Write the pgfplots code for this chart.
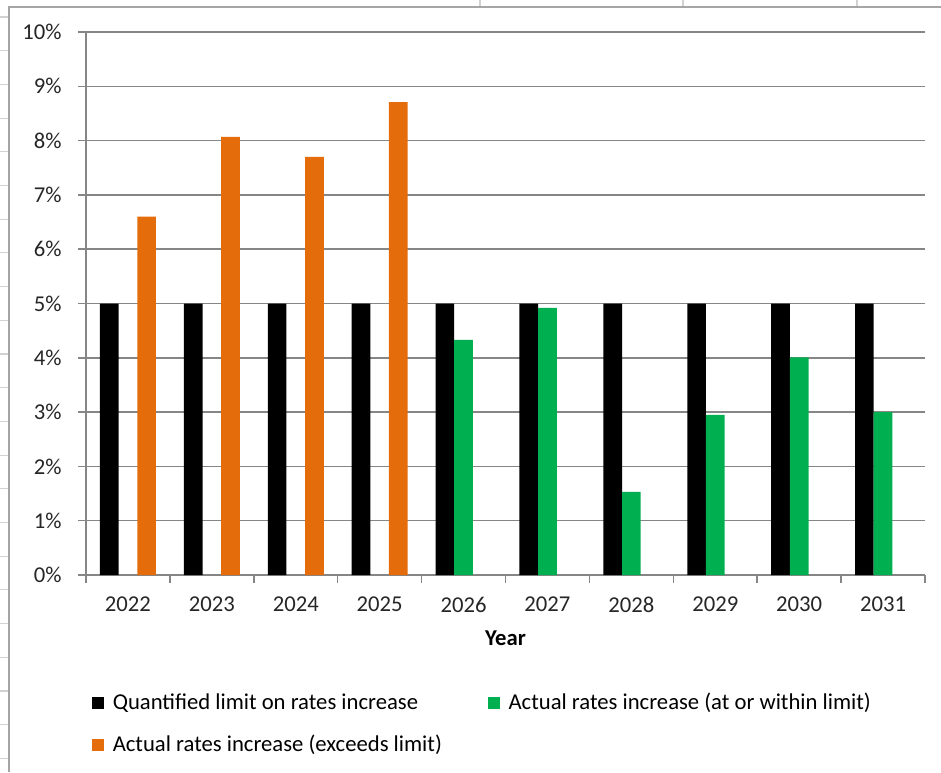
\documentclass[border=0pt]{standalone}
\usepackage{pgfplots}
\pgfplotsset{compat=1.18}
\usepackage{fontspec}
\setmainfont{Carlito}
\definecolor{gridgray}{RGB}{134,134,134}
\definecolor{exceed}{RGB}{228,108,10}
\definecolor{within}{RGB}{0,176,80}
\definecolor{framegray}{RGB}{165,165,165}
\definecolor{cellgray}{RGB}{210,210,210}
\begin{document}
\fontsize{17}{20}\selectfont
\begin{tikzpicture}
\useasboundingbox (0pt,0pt) rectangle (705.75pt,579pt);
\begin{scope}[x=0.75pt,y=0.75pt]
\foreach \k in {0,...,22} \draw[cellgray, line width=0.8pt] (0,{755-33.7*\k}) -- (9,{755-33.7*\k});
\foreach \xx in {480,683,857} \draw[cellgray, line width=0.8pt] (\xx,765) -- (\xx,772);
\draw[framegray, line width=1.2pt] (9,0) -- (9,765) -- (941,765);
\end{scope}
\begin{axis}[
  at={(64.5pt,147.75pt)}, anchor=south west,
  scale only axis, width=629.25pt, height=407.25pt,
  xmin=-0.5, xmax=9.5, ymin=0, ymax=10,
  xtick={-0.5,0.5,...,9.5}, xticklabels={},
  extra x ticks={0,...,9},
  extra x tick labels={2022,2023,2024,2025,2026,2027,2028,2029,2030,2031},
  extra x tick style={major tick length=0pt, grid=none, tick label style={yshift=-10.5pt}},
  ytick={0,...,10},
  yticklabels={0\%,1\%,2\%,3\%,4\%,5\%,6\%,7\%,8\%,9\%,10\%},
  yticklabel style={xshift=-6.5pt},
  ymajorgrids, grid style={gridgray, line width=1.1pt},
  axis x line*=bottom, axis y line*=left,
  axis line style={gridgray, line width=1.1pt, -},
  tick style={gridgray, line width=1.1pt},
  tick align=outside, major tick length=6pt,
  ticklabel style={font=\fontsize{17}{20}\selectfont, text=black!85},
  /pgf/number format/assume math mode=true,
  xlabel={\textbf{Year}},
  xlabel style={at={(axis description cs:0.5,0)}, anchor=center, yshift=-47.5pt, font=\fontsize{17}{20}\selectfont},
  legend columns=2,
  legend style={draw=none, fill=none, at={(0.0022,-0.2074)}, anchor=north west,
    font=\fontsize{17}{20}\selectfont, row sep=12pt,
    /tikz/every odd column/.append style={column sep=4.5pt},
    /tikz/every even column/.append style={column sep=32.5pt}},
  legend cell align=left,
  legend image code/.code={\fill[#1,draw=none] (0pt,-4.5pt) rectangle (9pt,4.5pt);},
]
\addplot[ybar, bar width=14pt, bar shift=-14pt, fill=black, draw=none]
  coordinates {(0,5) (1,5) (2,5) (3,5) (4,5) (5,5) (6,5) (7,5) (8,5) (9,5)};
\addlegendentry{Quantified limit on rates increase}
\addplot[ybar, bar width=14pt, bar shift=0pt, fill=within, draw=none]
  coordinates {(4,4.33) (5,4.92) (6,1.53) (7,2.95) (8,4.01) (9,3.0)};
\addlegendentry{Actual rates increase (at or within limit)}
\addplot[ybar, bar width=14pt, bar shift=14pt, fill=exceed, draw=none]
  coordinates {(0,6.6) (1,8.07) (2,7.7) (3,8.71)};
\addlegendentry{Actual rates increase (exceeds limit)}
\end{axis}
\end{tikzpicture}
\end{document}
